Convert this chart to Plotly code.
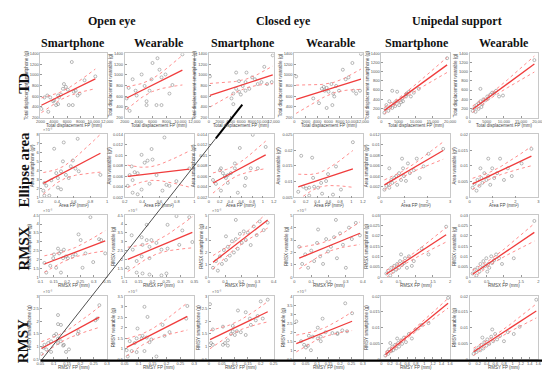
import numpy as np
import plotly.graph_objects as go

# ---------------- data ----------------
# Row 1: total displacement (TD)
td_os_x = [2590,3030,3470,4060,4650,4790,5090,5380,5530,5820,6120,6710,7000,7290,7590,7880,8620,10240,4350,3910,6260,6850,2150,3180,4650]
td_os_y = [576,612,576,522,612,576,630,738,827,773,720,1239,684,702,612,648,898,970,433,505,433,433,361,308,451]
td_ow_x = [2570,3140,3570,3710,4430,4860,5140,5860,6000,6710,7000,7290,7860,8860,2290,2290,2710,5140,6570,7290,10290,5570,8430]
td_ow_y = [755,916,702,612,1006,791,505,916,1221,1310,1095,952,1006,809,558,379,325,433,433,433,1382,702,648]
td_cs_x = [174,5040,5570,6260,6780,8000,8520,9040,9740,10260,10780,11650,11830,5040,5570,4520,4170,6780,4520,5910,6960,7480]
td_cs_y = [970,1042,881,791,863,952,916,827,863,1149,827,863,1364,738,684,648,558,702,451,630,1042,738]
td_cw_x = [333,4830,5170,5330,5670,6000,6500,6830,7000,7330,7830,8500,9000,9500,10170,10330,10830,11500,11670,4330,5670,6670,3330]
td_cw_y = [970,738,773,702,755,684,827,648,594,791,702,1095,916,952,1221,702,648,702,1390,469,379,433,558]
td_us_x = [1430,2290,3140,3710,4570,4570,5710,6000,7140,7140,7430,8000,8570,19140,860,1140,2000,2570,3140,4000,5140,6290,9430,10860]
td_us_y = [272,355,585,313,355,564,334,418,460,501,522,564,460,1295,104,188,146,230,209,251,272,355,543,627]
td_uw_x = [1430,2000,2570,3140,3140,3710,4000,4570,5140,5430,6000,6570,7140,7710,8570,9710,860,1710,2570,3430,18860]
td_uw_y = [209,272,313,355,627,292,397,376,460,418,501,543,522,585,460,480,146,125,188,230,1254]

# Row 2: ellipse area
ea_os_x = [0.247,0.27,0.235,0.365,0.41,0.447,0.47,0.48,0.506,0.54,0.59,0.62,0.647,0.66,0.92,0.306,0.41,0.447,0.247,0.39,0.565,0.33]
ea_os_y = [2.6,2.3,1.75,6.4,2.1,3.9,5.0,7.1,3.5,3.15,5.1,4.2,7.5,3.9,3.5,1.2,3.15,1.9,1.2,3.7,4.45,2.9]
ea_ow_x = [0.257,0.28,0.291,0.314,0.349,0.394,0.429,0.463,0.509,0.52,0.566,0.657,0.68,0.714,0.794,0.943,0.234,0.291,0.394,0.634,0.486,0.349]
ea_ow_y = [0.00625,0.0079,0.0053,0.0068,0.0066,0.0101,0.0086,0.009,0.0112,0.0092,0.00625,0.0134,0.0044,0.0042,0.0051,0.0075,0.0042,0.0029,0.0035,0.0033,0.0046,0.0026]
ea_cs_x = [0.203,0.222,0.258,0.295,0.314,0.35,0.406,0.48,0.48,0.572,0.683,0.775,0.905,1.052,0.812,0.074,0.129,0.222,0.35,0.665,0.535]
ea_cs_y = [0.00717,0.00754,0.00662,0.00606,0.0057,0.00625,0.00662,0.00754,0.00846,0.0114,0.0057,0.00754,0.00754,0.0116,0.0139,0.00532,0.00458,0.0033,0.00477,0.00422,0.0029]
ea_cw_x = [1.026,0.122,0.313,0.33,0.73,0.47,0.557,0.157,0.209,0.261,0.348,0.417,0.678,0.07,0.487,0.817,0.261,0.591]
ea_cw_y = [0.0225,0.0182,0.0176,0.0112,0.0148,0.0096,0.0102,0.0084,0.0078,0.0081,0.0084,0.0081,0.0059,0.0068,0.0062,0.0075,0.0056,0.0124]
ea_us_x = [0.129,0.214,0.3,0.343,0.429,0.471,0.557,0.643,0.686,0.771,0.857,0.943,0.986,1.071,1.157,1.243,1.414,1.543,1.671,1.843,2.057,2.7,0.9,0.343]
ea_us_y = [0.00148,0.00222,0.00258,0.00185,0.00332,0.00277,0.00369,0.00406,0.0024,0.00462,0.00332,0.00554,0.00406,0.00314,0.00646,0.00462,0.00517,0.00738,0.00369,0.0059,0.0083,0.00923,0.00738,0.00554]
ea_uw_x = [0.129,0.214,0.3,0.343,0.429,0.514,0.557,0.643,0.729,0.814,0.9,0.986,1.071,1.2,1.329,1.5,1.671,1.843,2.271,2.7,0.471,0.814]
ea_uw_y = [0.00308,0.0043,0.00215,0.00554,0.00369,0.00615,0.00462,0.00769,0.00554,0.00677,0.004,0.00923,0.00615,0.00769,0.0123,0.00554,0.00923,0.00677,0.01077,0.01538,0.00923,0.0123]

# Row 3: RMSX
rx_os_x = [0.2875,0.243,0.251,0.32,0.328,0.188,0.166,0.177,0.17,0.151,0.196,0.232,0.221,0.269,0.203,0.185,0.148,0.115,0.137,0.159,0.258,0.177,0.122,0.298,0.343]
rx_os_y = [4.39,3.42,3.1,3.15,3.1,2.56,2.62,2.45,2.35,2.29,2.18,2.29,2.18,2.35,2.08,2.08,2.08,1.81,1.65,1.54,1.54,1.27,1.27,1.86,2.35]
rx_ow_x = [0.286,0.332,0.254,0.307,0.179,0.125,0.161,0.179,0.196,0.164,0.189,0.214,0.254,0.129,0.161,0.143,0.189,0.232,0.296,0.343,0.111,0.143,0.164,0.189,0.232,0.25]
rx_ow_y = [4.45,4.39,3.96,3.64,3.96,3.37,3.26,3.1,3.1,2.83,2.72,2.94,2.62,2.56,2.18,1.92,2.08,2.56,2.83,2.99,1.54,1.27,1.22,1.16,1.11,1.22]
rx_cs_x = [0.025,0.043,0.055,0.068,0.08,0.092,0.105,0.117,0.129,0.142,0.154,0.166,0.178,0.191,0.203,0.215,0.228,0.24,0.258,0.277,0.295,0.314,0.338,0.363,0.166,0.105]
rx_cs_y = [0.77,1.31,0.54,1.69,1.08,2.2,1.4,2.46,1.75,2.9,2.0,3.08,2.3,3.5,2.77,3.7,3.0,3.6,2.6,4.1,3.4,4.5,3.8,4.4,4.62,3.3]
rx_cw_x = [0.029,0.046,0.064,0.081,0.099,0.116,0.133,0.151,0.168,0.186,0.197,0.214,0.232,0.249,0.267,0.284,0.301,0.319,0.336,0.359,0.383,0.139,0.243]
rx_cw_y = [2.46,1.08,1.85,0.77,2.15,1.31,2.77,1.69,1.08,3.08,2.08,2.46,3.23,1.54,3.54,2.62,0.77,4.0,3.08,4.38,3.38,3.85,4.62]
rx_us_x = [0.143,0.2,0.257,0.286,0.343,0.371,0.429,0.457,0.514,0.543,0.6,0.657,0.686,0.743,0.8,0.886,0.943,1.171,1.371,1.886,0.571]
rx_us_y = [0.00185,0.00323,0.00092,0.00462,0.00277,0.00554,0.00369,0.00646,0.00462,0.00785,0.006,0.00692,0.00923,0.00462,0.01015,0.00554,0.00785,0.01385,0.01108,0.02446,0.01108]
rx_uw_x = [0.086,0.143,0.2,0.229,0.286,0.314,0.371,0.4,0.457,0.486,0.543,0.571,0.629,0.657,0.714,0.771,0.857,0.943,1.286,1.886,0.514]
rx_uw_y = [0.00185,0.00369,0.00092,0.00462,0.00277,0.00646,0.00462,0.00785,0.00554,0.00923,0.00646,0.00462,0.01015,0.00692,0.00831,0.01108,0.00923,0.00646,0.00923,0.02723,0.00277]

# Row 4: RMSY
ry_os_x = [0.271,0.116,0.116,0.127,0.109,0.101,0.116,0.127,0.09,0.079,0.065,0.061,0.072,0.09,0.116,0.138,0.157,0.19,0.193,0.256,0.263,0.135,0.054,0.146]
ry_os_y = [2.64,2.25,1.89,1.86,1.5,1.43,1.32,1.21,1.21,1.14,1.07,0.96,0.89,0.79,1.14,1.07,0.89,1.5,1.61,2.04,2.11,1.04,0.71,0.79]
ry_ow_x = [0.275,0.121,0.132,0.096,0.114,0.111,0.129,0.146,0.186,0.193,0.139,0.093,0.086,0.068,0.057,0.075,0.093,0.061,0.121,0.164,0.271,0.211]
ry_ow_y = [3.03,2.99,2.51,1.96,1.61,1.49,1.53,1.44,2.13,1.61,1.31,1.49,1.27,1.36,0.93,0.89,0.84,0.63,0.89,0.63,2.43,1.79]
ry_cs_x = [0.004,0.2,0.227,0.112,0.142,0.054,0.092,0.085,0.1,0.108,0.123,0.142,0.162,0.158,0.181,0.188,0.208,0.073,0.015,0.008,0.015,0.054,0.062,0.073,0.092]
ry_cs_y = [2.68,2.79,2.86,2.43,2.36,1.79,1.82,1.5,1.46,1.61,1.57,1.46,1.86,2.11,2.04,2.21,2.11,1.25,1.68,1.14,1.07,1.07,1.14,1.04,1.61]
ry_cw_x = [0.223,0.253,0.124,0.103,0.064,0.081,0.103,0.116,0.137,0.167,0.189,0.21,0.231,0.009,0.03,0.043,0.051,0.06,0.073,0.116,0.189]
ry_cw_y = [3.6,3.05,2.75,2.25,1.8,1.75,1.65,1.75,2.0,1.95,1.95,2.1,2.05,2.6,1.5,1.3,1.15,1.25,1.0,1.5,1.9]
ry_us_x = [0.091,0.137,0.16,0.183,0.229,0.251,0.274,0.32,0.343,0.389,0.411,0.457,0.48,0.526,0.571,0.64,0.709,0.8,0.937,1.097,1.554,0.366,0.206]
ry_us_y = [0.00114,0.00229,0.00171,0.00314,0.00257,0.004,0.00286,0.00457,0.00343,0.00514,0.004,0.006,0.00486,0.00686,0.00543,0.008,0.00657,0.00943,0.01086,0.01143,0.01943,0.00657,0.00514]
ry_uw_x = [0.091,0.137,0.16,0.206,0.251,0.274,0.32,0.343,0.389,0.411,0.457,0.503,0.549,0.594,0.64,0.709,0.8,0.891,1.029,1.166,1.554,0.297,0.526]
ry_uw_y = [0.00171,0.00286,0.00229,0.00371,0.00286,0.00457,0.00343,0.00543,0.00429,0.00629,0.00486,0.00714,0.00571,0.008,0.00629,0.00743,0.00571,0.00857,0.008,0.01029,0.01886,0.00686,0.00943]

group_titles = ["Open eye", "Closed eye", "Unipedal support"]
device_titles = ["Smartphone", "Wearable", "Smartphone", "Wearable", "Smartphone", "Wearable"]
row_titles = ["TD", "Ellipse area", "RMSX", "RMSY"]
x_titles = ["Total displacement FP (mm)", "Area FP (mm²)", "RMSX FP (mm)", "RMSY FP (mm)"]
y_titles = [["Total displacement smartphone (g)", "Total displacement wearable (g)"],
            ["Area smartphone (g²)", "Area wearable (g²)"],
            ["RMSX smartphone (g)", "RMSX wearable (g)"],
            ["RMSY smartphone (g)", "RMSY wearable (g)"]]

# ---------------- panel layout (pixels) ----------------
W, H = 550, 371
col_px = [(29, 97), (115, 186), (201, 267), (288, 358), (377, 447), (467, 537)]
row_px = [(43, 108), (125, 189), (207, 270), (289, 353)]

# (x data, y data, x range, x dtick, y range, y dtick, scaled by 1e-3 label)
panels = [
    [(td_os_x, td_os_y, [2000, 12000], 2000, [200, 1400], 200, False),
     (td_ow_x, td_ow_y, [2000, 12000], 2000, [200, 1400], 200, False),
     (td_cs_x, td_cs_y, [0, 12000], 2000, [200, 1400], 200, False),
     (td_cw_x, td_cw_y, [0, 12000], 2000, [200, 1400], 200, False),
     (td_us_x, td_us_y, [0, 20000], 5000, [0, 1400], 200, False),
     (td_uw_x, td_uw_y, [0, 20000], 5000, [0, 1400], 200, False)],
    [(ea_os_x, ea_os_y, [0.2, 1], 0.2, [1, 8], 1, True),
     (ea_ow_x, ea_ow_y, [0.2, 1], 0.2, [0.002, 0.014], 0.002, False),
     (ea_cs_x, ea_cs_y, [0, 1.2], 0.2, [0.002, 0.014], 0.002, False),
     (ea_cw_x, ea_cw_y, [0, 1.2], 0.2, [0.005, 0.025], 0.005, False),
     (ea_us_x, ea_us_y, [0, 3], 1, [0, 0.012], 0.002, False),
     (ea_uw_x, ea_uw_y, [0, 3], 1, [0, 0.02], 0.005, False)],
    [(rx_os_x, rx_os_y, [0.1, 0.35], 0.05, [1, 4.5], 0.5, True),
     (rx_ow_x, rx_ow_y, [0.1, 0.35], 0.05, [1, 4.5], 0.5, True),
     (rx_cs_x, rx_cs_y, [0, 0.4], 0.1, [0, 5], 1, True),
     (rx_cw_x, rx_cw_y, [0, 0.4], 0.1, [0, 5], 1, True),
     (rx_us_x, rx_us_y, [0, 2], 0.5, [0, 0.03], 0.005, False),
     (rx_uw_x, rx_uw_y, [0, 2], 0.5, [0, 0.03], 0.005, False)],
    [(ry_os_x, ry_os_y, [0.05, 0.3], 0.05, [0.5, 3], 0.5, True),
     (ry_ow_x, ry_ow_y, [0.05, 0.3], 0.05, [0.5, 3.5], 0.5, True),
     (ry_cs_x, ry_cs_y, [0, 0.25], 0.05, [0.5, 3], 0.5, True),
     (ry_cw_x, ry_cw_y, [0, 0.3], 0.05, [0.5, 4], 0.5, True),
     (ry_us_x, ry_us_y, [0, 1.6], 0.2, [0, 0.02], 0.005, False),
     (ry_uw_x, ry_uw_y, [0, 1.6], 0.2, [0, 0.02], 0.005, False)],
]


def linfit_band(x, y, t=2.07, n_pts=40):
    x = np.asarray(x, float)
    y = np.asarray(y, float)
    n = len(x)
    b1, b0 = np.polyfit(x, y, 1)
    xs = np.linspace(x.min(), x.max(), n_pts)
    yh = b0 + b1 * xs
    res = y - (b0 + b1 * x)
    s = np.sqrt(np.sum(res ** 2) / (n - 2))
    sxx = np.sum((x - x.mean()) ** 2)
    se = s * np.sqrt(1.0 / n + (xs - x.mean()) ** 2 / sxx)
    return xs, yh, yh - t * se, yh + t * se


def px2x(p):
    return p / W


def px2y(p):
    return 1 - p / H


fig = go.Figure()
layout = {}
annotations = []
FRAME = "#c8c8c8"
TICKF = dict(size=4, color="#555555", family="Liberation Sans")
TITLEF = dict(size=4.5, color="#444444", family="Liberation Sans")

for r in range(4):
    for c in range(6):
        k = r * 6 + c + 1
        xs_name = "x" if k == 1 else f"x{k}"
        ys_name = "y" if k == 1 else f"y{k}"
        xkey = "xaxis" if k == 1 else f"xaxis{k}"
        ykey = "yaxis" if k == 1 else f"yaxis{k}"
        xd, yd, xr, xdt, yr, ydt, scaled = panels[r][c]
        L, R = col_px[c]
        T, B = row_px[r]
        common = dict(showline=True, mirror=True, linecolor=FRAME, linewidth=0.8,
                      ticks="inside", ticklen=2, tickcolor="#999999", tickwidth=0.6,
                      tickfont=TICKF, showgrid=False, zeroline=False, tickangle=0,
                      exponentformat="none")
        layout[xkey] = dict(common, domain=[px2x(L), px2x(R)], range=xr, dtick=xdt,
                            tick0=xr[0], anchor=ys_name)
        layout[ykey] = dict(common, domain=[px2y(B), px2y(T)], range=yr, dtick=ydt,
                            tick0=yr[0], anchor=xs_name,
                            title=dict(text=y_titles[r][c % 2], font=TITLEF, standoff=1))
        # x-axis title placed just under the tick labels
        annotations.append(dict(text=x_titles[r], xref="paper", yref="paper",
                                x=px2x((L + R) / 2), y=px2y(B + 8), xanchor="center",
                                yanchor="middle", showarrow=False, font=TITLEF, borderpad=0))
        # scatter points
        fig.add_trace(go.Scatter(x=xd, y=yd, mode="markers", xaxis=xs_name, yaxis=ys_name,
                                 marker=dict(symbol="circle-open", size=3, color="#8a8a8a",
                                             line=dict(width=0.6)),
                                 showlegend=False, hoverinfo="skip"))
        fx, fy, lo, hi = linfit_band(xd, yd)
        for band in (lo, hi):
            fig.add_trace(go.Scatter(x=fx, y=band, mode="lines", xaxis=xs_name, yaxis=ys_name,
                                     line=dict(color="#ff8080", width=0.9, dash="dot"),
                                     showlegend=False, hoverinfo="skip"))
        fig.add_trace(go.Scatter(x=fx, y=fy, mode="lines", xaxis=xs_name, yaxis=ys_name,
                                 line=dict(color="#f03c3c", width=1.3),
                                 showlegend=False, hoverinfo="skip"))
        if scaled:
            annotations.append(dict(text="×10⁻³", xref="paper", yref="paper",
                                    x=px2x(L + 2), y=px2y(T - 1), xanchor="left", yanchor="bottom",
                                    showarrow=False, borderpad=0,
                                    font=dict(size=4, color="#555555")))

SERIF = "Liberation Serif"
group_pos = [(102, 10), (277, 10), (454, 10)]
for txt, (px, py) in zip(group_titles, group_pos):
    annotations.append(dict(text=f"<b>{txt}</b>", xref="paper", yref="paper", x=px2x(px), y=px2y(py),
                            xanchor="center", yanchor="middle", showarrow=False,
                            font=dict(size=12, family=SERIF, color="#111111")))
dev_x = [62, 150, 236, 325, 413, 502]
for txt, px in zip(device_titles, dev_x):
    annotations.append(dict(text=f"<b>{txt}</b>", xref="paper", yref="paper", x=px2x(px), y=px2y(32),
                            xanchor="center", yanchor="middle", showarrow=False,
                            font=dict(size=12, family=SERIF, color="#111111")))
row_y = [73, 161, 241, 335]
for txt, py in zip(row_titles, row_y):
    annotations.append(dict(text=f"<b>{txt}</b>", xref="paper", yref="paper", x=px2x(12), y=px2y(py),
                            xanchor="center", yanchor="middle", showarrow=False, textangle=-90,
                            font=dict(size=15, family=SERIF, color="#111111")))

shapes = [
    dict(type="line", xref="paper", yref="paper", x0=px2x(30), y0=px2y(354), x1=px2x(208), y1=px2y(129),
         line=dict(color="#222222", width=0.8)),
    dict(type="line", xref="paper", yref="paper", x0=px2x(208), y0=px2y(129), x1=px2x(235), y1=px2y(95),
         line=dict(color="#000000", width=2)),
    dict(type="line", xref="paper", yref="paper", x0=px2x(29), y0=px2y(354.5), x1=px2x(550), y1=px2y(354.5),
         line=dict(color="#000000", width=2.2)),
]

fig.update_layout(width=W, height=H, margin=dict(l=0, r=0, t=0, b=0),
                  paper_bgcolor="white", plot_bgcolor="white",
                  annotations=annotations, shapes=shapes, showlegend=False, **layout)

fig.write_html("out.html")
